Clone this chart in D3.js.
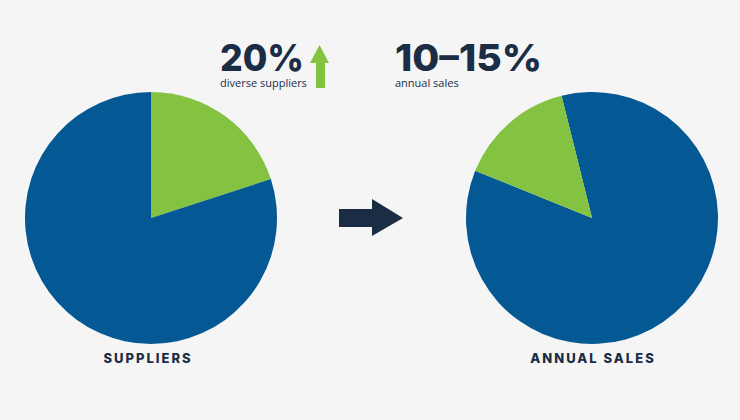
<!DOCTYPE html>
<html>
<head>
<meta charset="utf-8">
<script src="https://cdn.jsdelivr.net/npm/d3@7"></script>
<style>
  html, body { margin: 0; padding: 0; background: #f5f5f5; }
  .big { font-family: Inter, "Open Sans", sans-serif; font-weight: 800; fill: #1b2d45; }
  .small { font-family: "Open Sans", Inter, sans-serif; font-size: 11px; fill: #1b2d45; }
  .label { font-family: Inter, "Open Sans", sans-serif; font-weight: 800; font-size: 13px; letter-spacing: 2px; fill: #1b2d45; }
</style>
</head>
<body>
<div id="chart"></div>
<script>
const width = 740, height = 420;

// data
const categories = ['diverse', 'other'];
const supplierShares = [20, 80];   // diverse suppliers vs others
const salesShares = [15, 85];      // diverse share of annual sales
const pieTitles = ['SUPPLIERS', 'ANNUAL SALES'];
const headlines = ['20%', '10–15%'];
const subtitles = ['diverse suppliers', 'annual sales'];

const colour = d3.scaleOrdinal()
  .domain(categories)
  .range(['#84c341', '#045994']);

const svg = d3.select('#chart')
  .append('svg')
  .attr('width', width)
  .attr('height', height);

svg.append('rect')
  .attr('width', width)
  .attr('height', height)
  .attr('fill', '#f5f5f5');

const radius = 126;
const arc = d3.arc().innerRadius(0).outerRadius(radius);

// left pie: green slice from 12 o'clock clockwise
const pieLeft = d3.pie().sort(null).value(d => d.value)
  .startAngle(0).endAngle(2 * Math.PI);

// right pie: blue first, rotated so green sits just left of 12 o'clock
const rot = -14 * Math.PI / 180;
const pieRight = d3.pie().sort(null).value(d => d.value)
  .startAngle(rot).endAngle(rot + 2 * Math.PI);

const leftData = categories.map((c, i) => ({cat: c, value: supplierShares[i]}));
const rightData = categories.map((c, i) => ({cat: c, value: salesShares[i]})).reverse();

const pies = [
  {cx: 151, cy: 218, arcs: pieLeft(leftData), title: pieTitles[0], tx: 148},
  {cx: 592, cy: 218, arcs: pieRight(rightData), title: pieTitles[1], tx: 593}
];

pies.forEach(p => {
  const g = svg.append('g').attr('transform', `translate(${p.cx},${p.cy})`);
  g.selectAll('path')
    .data(p.arcs)
    .enter()
    .append('path')
    .attr('d', arc)
    .attr('fill', d => colour(d.data.cat));

  svg.append('text')
    .attr('class', 'label')
    .attr('x', p.tx)
    .attr('y', 363)
    .attr('text-anchor', 'middle')
    .text(p.title);
});

// headline figures
const heads = [
  {x: 220, w: 84},
  {x: 395, w: 147}
];

heads.forEach((h, i) => {
  svg.append('text')
    .attr('class', 'big')
    .attr('x', h.x)
    .attr('y', 71)
    .attr('font-size', 37)
    .attr('textLength', h.w)
    .attr('lengthAdjust', 'spacingAndGlyphs')
    .text(headlines[i]);

  svg.append('text')
    .attr('class', 'small')
    .attr('x', h.x)
    .attr('y', 87)
    .text(subtitles[i]);
});

// green up arrow
svg.append('path')
  .attr('d', 'M316,88 L325,88 L325,63 L329,63 L319.5,45 L310,63 L316,63 Z')
  .attr('fill', '#84c341');

// navy right arrow between the pies
svg.append('path')
  .attr('d', 'M339,209 L372,209 L372,199 L403,218 L372,236 L372,227 L339,227 Z')
  .attr('fill', '#1b2d45');
</script>
</body>
</html>
